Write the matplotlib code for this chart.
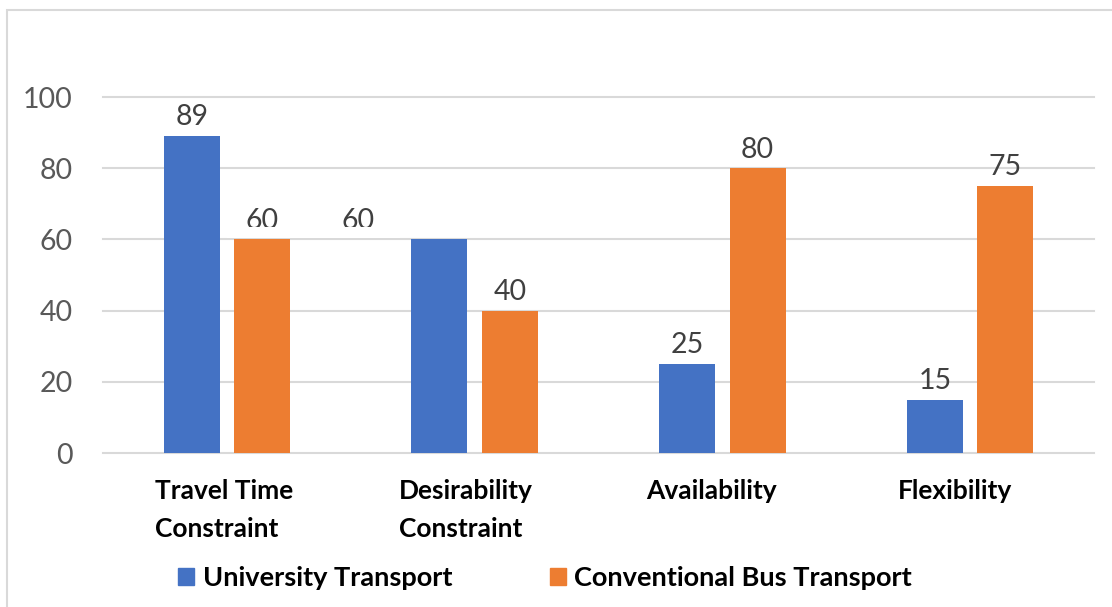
import numpy as np
import matplotlib.pyplot as plt
import matplotlib.patches as mpatches
import matplotlib.transforms as mtransforms

plt.rcParams['font.family'] = ['Lato', 'DejaVu Sans']

# ── data ────────────────────────────────────────────────────────────────────
categories = ['Travel Time\nConstraint', 'Desirability\nConstraint',
              'Availability', 'Flexibility']
university = [89, 60, 25, 15]
conventional = [60, 40, 80, 75]
series_names = ['University Transport', 'Conventional Bus Transport']
yticks = [0, 20, 40, 60, 80, 100]

BLUE = '#4472C4'
ORANGE = '#ED7D31'
GRID = '#D9D9D9'

W, H = 1112, 607
fig = plt.figure(figsize=(W / 100, H / 100), dpi=100)
fig.patch.set_facecolor('white')

# chart-area frame (top and left edges visible)
fig.add_artist(mpatches.Rectangle((7 / W, -0.1), 1.2, (H - 10) / H + 0.1,
                                  transform=fig.transFigure, fill=False,
                                  edgecolor=GRID, linewidth=1.5))

ax = fig.add_axes([103 / W, (H - 453) / H, (1094 - 103) / W, (453 - 97) / H])
ax.set_xlim(-0.5, len(categories) - 0.5)
ax.set_ylim(0, 100)

x = np.arange(len(categories))
bw, off = 0.226, 0.142

for yv in yticks:
    ax.axhline(yv, color=GRID, linewidth=1.5, zorder=0, clip_on=False)

ax.bar(x - off, university, bw, color=BLUE, zorder=2)
ax.bar(x + off, conventional, bw, color=ORANGE, zorder=2)

# value labels
lab_kw = dict(ha='center', va='bottom', fontsize=20.5, color='#404040', zorder=3)
label_pos = [(x[0] - off, university[0]), (x[0] + off, conventional[0]),
             (x[1] - 0.471, university[1]), (x[1] + off, conventional[1]),
             (x[2] - off, university[2]), (x[2] + off, conventional[2]),
             (x[3] - off, university[3]), (x[3] + off, conventional[3])]
for xp, v in label_pos:
    ax.text(xp, v + 1.6, f'{v}', **lab_kw)

# the two "60" labels are cut off along their lower edge
ax.add_patch(mpatches.Rectangle((0.0, 60.4), 0.7, 3.0, facecolor='white',
                                edgecolor='none', zorder=4))

ax.set_yticks(yticks)
ax.tick_params(axis='y', length=0, labelsize=20.5, labelcolor='#595959', pad=22)
ax.set_xticks(x)
ax.set_xticklabels(categories, fontsize=19, fontweight='bold',
                   multialignment='left', linespacing=1.7, va='top')
ax.tick_params(axis='x', length=0, pad=19)
# category labels sit a little left of the group centres
for lbl, dx in zip(ax.get_xticklabels(), [-3, -9, -11, -15]):
    lbl.set_transform(lbl.get_transform() +
                      mtransforms.ScaledTranslation(dx / 100, 0, fig.dpi_scale_trans))
for s in ax.spines.values():
    s.set_visible(False)

handles = [mpatches.Patch(color=BLUE), mpatches.Patch(color=ORANGE)]
fig.legend(handles, series_names, loc='center',
           bbox_to_anchor=(545 / W, (H - 578) / H), ncol=2,
           frameon=False, handlelength=0.6, handleheight=0.6,
           handletextpad=0.3, columnspacing=3.6,
           prop=dict(size=19.5, weight='bold'))

fig.savefig('out.png', dpi=100, facecolor='white')
